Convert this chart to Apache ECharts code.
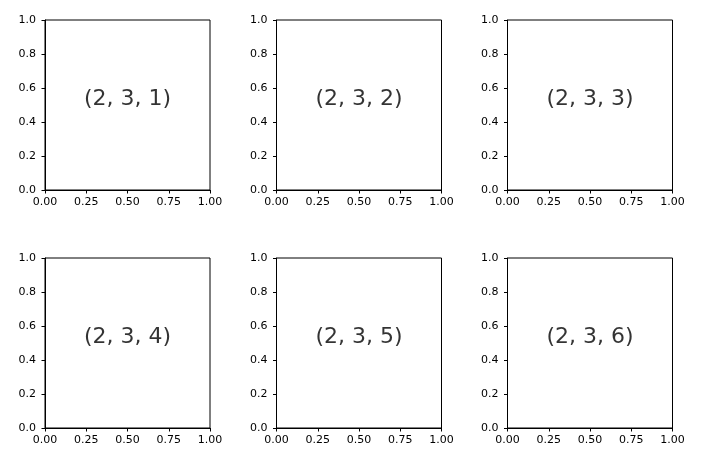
<!DOCTYPE html>
<html>
<head>
<meta charset="utf-8">
<script src="https://cdn.jsdelivr.net/npm/echarts@6/dist/echarts.min.js"></script>
<style>
html,body{margin:0;padding:0;background:#fff;}
#main{width:711px;height:465px;}
</style>
</head>
<body>
<div id="main"></div>
<script>
// Subplot titles (text placed at axes centre)
const panelLabels = ['(2, 3, 1)', '(2, 3, 2)', '(2, 3, 3)', '(2, 3, 4)', '(2, 3, 5)', '(2, 3, 6)'];
const labelPoint = [0.5, 0.5];
const xTicks = [0, 0.25, 0.5, 0.75, 1.0];
const yTicks = [0, 0.2, 0.4, 0.6, 0.8, 1.0];

const colLeft = [45, 276.5, 507.5];
const rowTop = [20, 258];
const W = 165, H = 170;
const FONT = 'DejaVu Sans';

const grids = [], xAxes = [], yAxes = [], series = [];
panelLabels.forEach((lab, i) => {
  const r = Math.floor(i / 3), c = i % 3;
  grids.push({left: colLeft[c], top: rowTop[r], width: W, height: H,
    show: true, borderColor: '#000', borderWidth: 1, backgroundColor: '#fff', containLabel: false});
  xAxes.push({type: 'value', gridIndex: i, min: xTicks[0], max: xTicks[xTicks.length-1],
    interval: xTicks[1]-xTicks[0],
    axisLine: {show: true, onZero: false, lineStyle: {color: '#000', width: 1}},
    axisTick: {show: true, length: 3.5, lineStyle: {color: '#000'}},
    splitLine: {show: false},
    axisLabel: {show: true, color: '#000', fontFamily: FONT, fontSize: 11, margin: 7,
      formatter: v => v.toFixed(2)}
  });
  yAxes.push({type: 'value', gridIndex: i, min: yTicks[0], max: yTicks[yTicks.length-1],
    interval: yTicks[1]-yTicks[0],
    axisLine: {show: true, onZero: false, lineStyle: {color: '#000', width: 1}},
    axisTick: {show: true, length: 3.5, lineStyle: {color: '#000'}},
    splitLine: {show: false},
    axisLabel: {show: true, color: '#000', fontFamily: FONT, fontSize: 11, margin: 9,
      formatter: v => v.toFixed(1)}
  });
  series.push({type: 'scatter', xAxisIndex: i, yAxisIndex: i, symbolSize: 0,
    silent: true, animation: false,
    data: [labelPoint],
    label: {show: true, position: 'inside', offset: [0, -6], formatter: lab,
      fontFamily: FONT, fontSize: 22, color: '#000'}
  });
});

const chart = echarts.init(document.getElementById('main'), null, {renderer: 'canvas'});
chart.setOption({animation: false, backgroundColor: '#fff', grid: grids, xAxis: xAxes, yAxis: yAxes, series: series});
</script>
</body>
</html>
